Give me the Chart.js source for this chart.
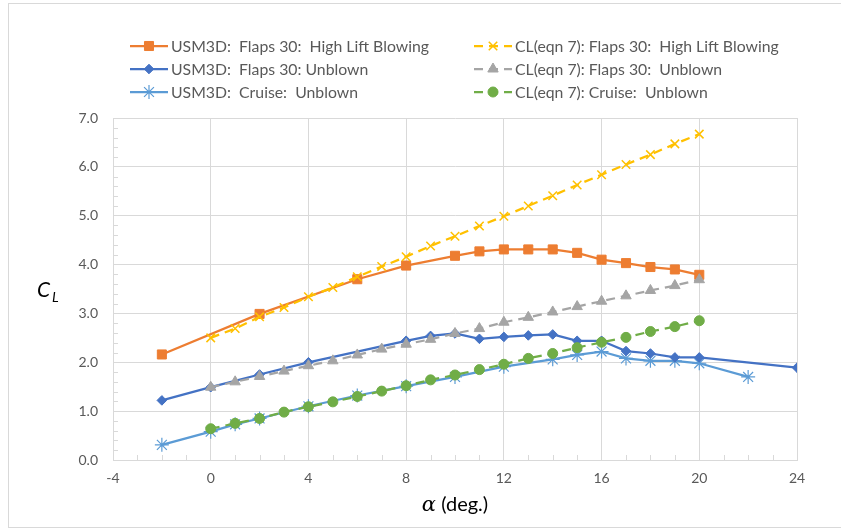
<!DOCTYPE html>
<html>
<head>
<meta charset="utf-8">
<script src="https://cdn.jsdelivr.net/npm/chart.js@4/dist/chart.umd.min.js"></script>
<style>
  body { margin: 0; background: #fff; }
  #wrap { position: relative; width: 841px; height: 529px; }
</style>
</head>
<body>
<div id="wrap"><canvas id="chart" width="841" height="529"></canvas></div>
<script>
// angle of attack (deg) and CL
var alphaHLB = [-2, 2, 6, 8, 10, 11, 12, 13, 14, 15, 16, 17, 18, 19, 20];
var clHLB = [2.16, 2.99, 3.70, 3.98, 4.18, 4.27, 4.31, 4.31, 4.31, 4.24, 4.10, 4.03, 3.95, 3.90, 3.79];

var alphaUnblown = [-2, 0, 2, 4, 8, 9, 10, 11, 12, 13, 14, 15, 16, 17, 18, 19, 20, 24];
var clUnblown = [1.22, 1.49, 1.75, 2.00, 2.44, 2.54, 2.59, 2.48, 2.52, 2.55, 2.57, 2.44, 2.44, 2.23, 2.18, 2.10, 2.10, 1.89];

var alphaCruise = [-2, 0, 1, 2, 4, 6, 8, 10, 12, 14, 15, 16, 17, 18, 19, 20, 22];
var clCruise = [0.31, 0.58, 0.73, 0.85, 1.10, 1.32, 1.51, 1.70, 1.91, 2.06, 2.15, 2.22, 2.08, 2.03, 2.03, 1.98, 1.70];

var alphaEqn = [0, 1, 2, 3, 4, 5, 6, 7, 8, 9, 10, 11, 12, 13, 14, 15, 16, 17, 18, 19, 20];
var eqnHLB = [2.50, 2.69, 2.93, 3.12, 3.34, 3.53, 3.75, 3.96, 4.16, 4.38, 4.58, 4.79, 4.99, 5.20, 5.41, 5.63, 5.84, 6.05, 6.25, 6.47, 6.67];
var eqnUnblown = [1.49, 1.60, 1.71, 1.82, 1.93, 2.03, 2.15, 2.27, 2.37, 2.47, 2.59, 2.69, 2.82, 2.92, 3.03, 3.14, 3.25, 3.36, 3.47, 3.57, 3.69];
var eqnCruise = [0.64, 0.75, 0.85, 0.98, 1.09, 1.19, 1.30, 1.41, 1.52, 1.64, 1.74, 1.85, 1.96, 2.08, 2.18, 2.30, 2.41, 2.51, 2.63, 2.73, 2.85];

var xTicks = [-4, 0, 4, 8, 12, 16, 20, 24];
var yTicks = [0, 1, 2, 3, 4, 5, 6, 7];

var FONT = "Lato, 'Open Sans', sans-serif";
var GRID = "#d9d9d9";

function pts(xs, ys) {
  return xs.map(function (x, i) { return { x: x, y: ys[i] }; });
}

function series(label, xs, ys, color, style, radius, dashed, bw) {
  return {
    label: label,
    data: pts(xs, ys),
    showLine: true,
    borderColor: color,
    backgroundColor: color,
    borderWidth: 2.25,
    borderDash: dashed ? [9, 6] : [],
    pointStyle: style,
    pointRadius: radius,
    pointHoverRadius: radius,
    pointBorderWidth: bw || 1,
    pointBorderColor: color,
    pointBackgroundColor: color,
    tension: 0,
    // later series on top, like Excel
    order: dashed ? 0 : 1,
  };
}

var datasets = [
  series("USM3D:  Flaps 30:  High Lift Blowing", alphaHLB, clHLB, "#ED7D31", "rect", 6.4, false),
  series("USM3D:  Flaps 30: Unblown", alphaUnblown, clUnblown, "#4472C4", "rectRot", 4.8, false),
  series("USM3D:  Cruise:  Unblown", alphaCruise, clCruise, "#5B9BD5", "star", 7, false, 1.2),
  series("CL(eqn 7): Flaps 30:  High Lift Blowing", alphaEqn, eqnHLB, "#FFC000", "crossRot", 6, true, 1.5),
  series("CL(eqn 7): Flaps 30:  Unblown", alphaEqn, eqnUnblown, "#A5A5A5", "triangle", 6, true),
  series("CL(eqn 7): Cruise:  Unblown", alphaEqn, eqnCruise, "#70AD47", "circle", 5, true),
];

// legend slots: [dataset index, x of line start, y]
var legendSlots = [[0, 130, 46], [1, 130, 69], [2, 130, 92], [3, 474, 46], [4, 474, 69], [5, 474, 92]];

var extras = {
  id: "extras",
  beforeDraw(chart) {
    var ctx = chart.ctx;
    ctx.save();
    ctx.fillStyle = "#fff";
    ctx.fillRect(0, 0, chart.width, chart.height);
    ctx.strokeStyle = GRID;
    ctx.lineWidth = 1;
    ctx.strokeRect(8.5, 3.5, 850, 524);
    ctx.restore();
  },
  afterDatasetsDraw(chart) {
    var ctx = chart.ctx;
    var xs = chart.scales.x, ys = chart.scales.y;
    var a = chart.chartArea;
    ctx.save();
    // minor tick marks, inside the plot
    ctx.strokeStyle = GRID;
    ctx.lineWidth = 1;
    ctx.beginPath();
    for (var v = -4; v <= 24; v++) {
      if (v % 4 === 0) continue;
      var px = Math.round(xs.getPixelForValue(v)) + 0.5;
      ctx.moveTo(px, a.bottom); ctx.lineTo(px, a.bottom - 5);
    }
    for (var k = 0; k <= 35; k++) {
      if (k % 5 === 0) continue;
      var py = Math.round(ys.getPixelForValue(k / 5)) + 0.5;
      ctx.moveTo(a.left, py); ctx.lineTo(a.left + 5, py);
    }
    ctx.stroke();

    // axis titles
    ctx.fillStyle = "#000";
    ctx.textBaseline = "alphabetic";
    var cy = (a.top + a.bottom) / 2 + 8;
    ctx.font = "italic 21px " + FONT;
    ctx.fillText("C", 37, cy);
    ctx.font = "italic 14px " + FONT;
    ctx.fillText("L", 52, cy + 5);

    ctx.font = "italic 21px 'DejaVu Serif', serif";
    var t1 = "\u03B1";
    var w1 = ctx.measureText(t1).width;
    ctx.font = "20px " + FONT;
    var t2 = " (deg.)";
    var w2 = ctx.measureText(t2).width;
    var cx = (a.left + a.right) / 2 - (w1 + w2) / 2;
    ctx.font = "italic 21px 'DejaVu Serif', serif";
    ctx.fillText(t1, cx, 511);
    ctx.font = "20px " + FONT;
    ctx.fillText(t2, cx + w1, 511);

    // legend
    ctx.font = "15.8px " + FONT;
    ctx.textBaseline = "middle";
    legendSlots.forEach(function (s) {
      var ds = chart.data.datasets[s[0]];
      var x = s[1], y = s[2];
      ctx.strokeStyle = ds.borderColor;
      ctx.lineWidth = ds.borderWidth;
      ctx.setLineDash(ds.borderDash);
      ctx.beginPath();
      ctx.moveTo(x, y); ctx.lineTo(x + 38, y);
      ctx.stroke();
      ctx.setLineDash([]);
      ctx.fillStyle = ds.pointBackgroundColor;
      ctx.strokeStyle = ds.pointBorderColor;
      ctx.lineWidth = ds.pointBorderWidth;
      Chart.helpers.drawPoint(ctx, { pointStyle: ds.pointStyle, radius: ds.pointRadius, rotation: 0, borderWidth: ds.pointBorderWidth }, x + 19, y);
      ctx.fillStyle = "#595959";
      ctx.fillText(ds.label, x + 41, y + 1);
    });
    ctx.restore();
  },
};

new Chart(document.getElementById("chart"), {
  type: "scatter",
  data: { datasets: datasets },
  options: {
    responsive: false,
    animation: false,
    layout: { padding: { top: 118, right: 44, bottom: 9, left: 0 } },
    plugins: { legend: { display: false }, tooltip: { enabled: false } },
    scales: {
      x: {
        type: "linear",
        min: -4, max: 24,
        afterBuildTicks(scale) { scale.ticks = xTicks.map(function (v) { return { value: v }; }); },
        afterFit(scale) { scale.height = 60; },
        grid: { color: GRID, drawTicks: false },
        border: { color: GRID },
        ticks: { color: "#595959", font: { family: FONT, size: 14 }, padding: 10, maxRotation: 0 },
      },
      y: {
        type: "linear",
        min: 0, max: 7,
        afterBuildTicks(scale) { scale.ticks = yTicks.map(function (v) { return { value: v }; }); },
        afterFit(scale) { scale.width = 113; },
        grid: { color: GRID, drawTicks: false },
        border: { color: GRID },
        ticks: { color: "#595959", font: { family: FONT, size: 14 }, padding: 15,
          callback: function (v) { return v.toFixed(1); } },
      },
    },
  },
  plugins: [extras],
});
</script>
</body>
</html>
